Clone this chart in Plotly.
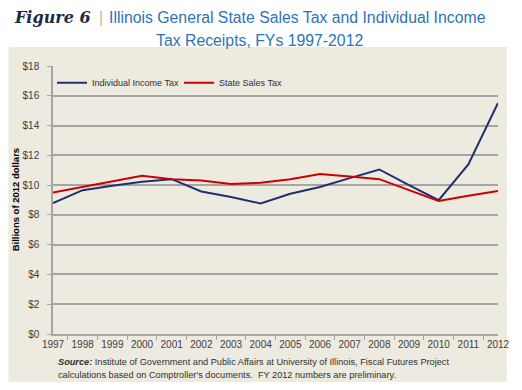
import plotly.graph_objects as go

years = [str(y) for y in range(1997, 2013)]
income_tax = [8.79, 9.66, 9.95, 10.22, 10.40, 9.57, 9.20, 8.77, 9.42, 9.87, 10.47, 11.05, 10.00, 8.99, 11.39, 15.52]
sales_tax = [9.51, 9.87, 10.25, 10.63, 10.40, 10.31, 10.07, 10.16, 10.40, 10.74, 10.58, 10.40, 9.66, 8.93, 9.28, 9.60]
y_ticks = [0, 2, 4, 6, 8, 10, 12, 14, 16, 18]
y_tick_labels = ["$" + str(v) for v in y_ticks]

W, H = 522, 390
L, R, T, B = 53, 502, 66, 334
PW, PH = R - L, B - T

def px(x):
    return (x - L) / PW

def py(y):
    return (B - y) / PH

BEIGE = "#EDEAE0"
NAVY = "#1F3070"
RED = "#CC0000"
GRID = "#A5A5A5"
TXT = "#404040"

fig = go.Figure()
fig.add_trace(go.Scatter(x=years, y=income_tax, mode="lines", name="Individual Income Tax",
                         line=dict(color=NAVY, width=2)))
fig.add_trace(go.Scatter(x=years, y=sales_tax, mode="lines", name="State Sales Tax",
                         line=dict(color=RED, width=2)))

fig.update_layout(
    width=W, height=H,
    margin=dict(l=L, r=W - R, t=T, b=H - B, pad=0),
    paper_bgcolor="white",
    plot_bgcolor=BEIGE,
    font=dict(family="Liberation Sans, Arial, sans-serif", size=10, color=TXT),
    showlegend=True,
    legend=dict(orientation="h", x=px(52), y=py(82.7), xanchor="left", yanchor="middle",
                bgcolor="rgba(0,0,0,0)", font=dict(size=9, color="#303030"),
                entrywidth=82, entrywidthmode="pixels", tracegroupgap=0),
    xaxis=dict(type="category", showgrid=False, showline=True, linecolor=GRID, linewidth=1.5,
               ticks="outside", tickson="boundaries", ticklen=4, tickcolor=GRID, tickangle=0,
               tickfont=dict(size=10, color=TXT), fixedrange=True),
    yaxis=dict(range=[0, 18], tickvals=y_ticks, ticktext=y_tick_labels, showgrid=True,
               gridcolor=GRID, gridwidth=1.5, showline=True, linecolor=GRID, linewidth=1.5,
               ticks="outside", ticklen=4, tickcolor=GRID, ticklabelstandoff=6,
               tickfont=dict(size=10, color=TXT), zeroline=False, fixedrange=True),
)

# beige panel behind the chart
fig.add_shape(type="rect", xref="paper", yref="paper", x0=px(8), x1=px(511), y0=py(382), y1=py(47),
              fillcolor=BEIGE, line=dict(width=0), layer="below")

# title
fig.add_annotation(xref="paper", yref="paper", x=px(93), y=py(17), xanchor="right", yanchor="middle",
                   text="<b><i>Figure 6</i></b>", showarrow=False,
                   font=dict(family="DejaVu Serif, serif", size=16, color="#1F2A44"))
fig.add_annotation(xref="paper", yref="paper", x=px(101), y=py(17), xanchor="center", yanchor="middle",
                   text="|", showarrow=False, font=dict(family="Liberation Sans", size=16, color="#C8B98A"))
fig.add_annotation(xref="paper", yref="paper", x=px(107), y=py(17), xanchor="left", yanchor="middle",
                   text="Illinois General State Sales Tax and Individual Income", showarrow=False,
                   font=dict(family="Liberation Sans", size=15.8, color="#2D74B5"))
fig.add_annotation(xref="paper", yref="paper", x=px(261), y=py(40), xanchor="center", yanchor="middle",
                   text="Tax Receipts, FYs 1997-2012", showarrow=False,
                   font=dict(family="Liberation Sans", size=15.8, color="#2D74B5"))

# y-axis title
fig.add_annotation(xref="paper", yref="paper", x=px(15), y=py(200), xanchor="center", yanchor="middle",
                   text="<b>Billions of 2012 dollars</b>", textangle=-90, showarrow=False,
                   font=dict(family="Liberation Sans", size=9.5, color="black"))

# source note
fig.add_annotation(xref="paper", yref="paper", x=px(56), y=py(362), xanchor="left", yanchor="middle",
                   text="<b><i>Source:</i></b> Institute of Government and Public Affairs at University of Illinois, Fiscal Futures Project",
                   showarrow=False, font=dict(size=9.2, color="#303030"))
fig.add_annotation(xref="paper", yref="paper", x=px(56), y=py(375), xanchor="left", yanchor="middle",
                   text="calculations based on Comptroller's documents.  FY 2012 numbers are preliminary.",
                   showarrow=False, font=dict(size=9.2, color="#303030"))

fig.write_html("out.html", config={"displayModeBar": False},
               post_script="document.body.style.margin='0';")
